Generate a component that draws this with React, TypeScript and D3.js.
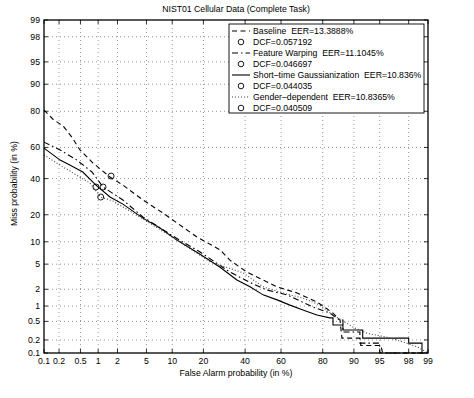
import * as React from "react"
import * as d3 from "d3"

// probability ticks (percent), same on both axes
const tickValues = [0.1, 0.2, 0.5, 1, 2, 5, 10, 20, 40, 60, 80, 90, 95, 98, 99]
const tickLabels = ["0.1", "0.2", "0.5", "1", "2", "5", "10", "20", "40", "60", "80", "90", "95", "98", "99"]

// DET curves: false alarm % / miss %
const baselineFa = [0.1, 0.15, 0.24, 0.35, 0.49, 0.82, 1.54, 2.4, 4.5, 7.9, 11.2, 17.6, 27.2, 32, 41, 57.8, 68.4, 77.6, 80.1, 83.8, 86.1, 86.7, 91.4, 91.6, 95.2, 95.4, 99]
const baselineMiss = [80.5, 76.3, 72.6, 66.3, 58.4, 50, 41, 36, 27.4, 20.8, 16.5, 11.4, 7.9, 5.7, 3.8, 2.2, 1.73, 1.19, 1.0, 0.73, 0.53, 0.22, 0.22, 0.15, 0.15, 0.1, 0.1]

const warpingFa = [0.1, 0.21, 0.43, 0.79, 1.2, 2.4, 4.5, 11.2, 18.7, 32, 42.7, 52.2, 63.2, 75.9, 82.7, 86.1, 87, 87, 91.4, 91.4, 95, 95, 99]
const warpingMiss = [63.3, 58.4, 51.9, 44.2, 34.8, 27.4, 19, 11, 7.4, 3.8, 2.6, 1.94, 1.6, 0.96, 0.73, 0.53, 0.53, 0.3, 0.3, 0.17, 0.17, 0.1, 0.1]

const gaussFa = [0.1, 0.21, 0.32, 0.55, 0.92, 1.54, 2.4, 4.5, 7.3, 11.2, 18.7, 27.2, 35.6, 42.7, 50, 57.8, 64.8, 71.3, 77.6, 82.7, 83.8, 83.8, 87, 87, 92, 92, 98, 98, 98.75, 98.75]
const gaussMiss = [59.6, 51.9, 48.7, 44.2, 36, 29, 25.2, 18.5, 14.5, 10.5, 6.9, 4.5, 2.85, 2.2, 1.6, 1.3, 1.04, 0.84, 0.67, 0.59, 0.59, 0.42, 0.42, 0.33, 0.33, 0.22, 0.22, 0.17, 0.17, 0.1]

const genderFa = [0.1, 0.18, 0.37, 0.73, 1.1, 1.71, 4.1, 11.2, 22.7, 38.9, 50, 61, 71.3, 78.9, 83.8, 89.8, 92.9, 96, 97.6, 98.5, 99]
const genderMiss = [55.2, 50, 43.5, 37.2, 29, 26.8, 19, 10.5, 5.4, 3.7, 2.2, 1.73, 1.4, 1.04, 0.67, 0.38, 0.28, 0.23, 0.18, 0.14, 0.1]

// DCF operating points, in legend order
const dcfFa = [1.6, 1.2, 0.92, 1.1]
const dcfMiss = [41.6, 34.8, 34.8, 29]

const legendLabels = [
  "Baseline  EER=13.3888%",
  "DCF=0.057192",
  "Feature Warping  EER=11.1045%",
  "DCF=0.046697",
  "Short\u2013time Gaussianization  EER=10.836%",
  "DCF=0.044035",
  "Gender\u2013dependent  EER=10.8365%",
  "DCF=0.040509",
]

// inverse normal cdf (Acklam)
function probit(p: number) {
  const a = [-39.69683028665376, 220.9460984245205, -275.9285104469687, 138.357751867269, -30.66479806614716, 2.506628277459239]
  const b = [-54.47609879822406, 161.5858368580409, -155.6989798598866, 66.80131188771972, -13.28068155288572]
  const c = [-0.007784894002430293, -0.3223964580411365, -2.400758277161838, -2.549732539343734, 4.374664141464968, 2.938163982698783]
  const d = [0.007784695709041462, 0.3224671290700398, 2.445134137142996, 3.754408661907416]
  const pl = 0.02425
  if (p < pl) {
    const q = Math.sqrt(-2 * Math.log(p))
    return (((((c[0] * q + c[1]) * q + c[2]) * q + c[3]) * q + c[4]) * q + c[5]) / ((((d[0] * q + d[1]) * q + d[2]) * q + d[3]) * q + 1)
  }
  if (p > 1 - pl) {
    const q = Math.sqrt(-2 * Math.log(1 - p))
    return -(((((c[0] * q + c[1]) * q + c[2]) * q + c[3]) * q + c[4]) * q + c[5]) / ((((d[0] * q + d[1]) * q + d[2]) * q + d[3]) * q + 1)
  }
  const q = p - 0.5
  const r = q * q
  return ((((((a[0] * r + a[1]) * r + a[2]) * r + a[3]) * r + a[4]) * r + a[5]) * q) / (((((b[0] * r + b[1]) * r + b[2]) * r + b[3]) * r + b[4]) * r + 1)
}

const FONT = "'Liberation Sans', Arial, Helvetica, sans-serif"

export default function App() {
  const width = 474
  const height = 398
  const left = 44, right = 428, top = 20, bottom = 353

  const x = d3.scaleLinear().domain([probit(0.001), probit(0.99)]).range([left, right])
  const y = d3.scaleLinear().domain([probit(0.001), probit(0.99)]).range([bottom, top])
  const px = (v: number) => x(probit(v / 100))
  const py = (v: number) => y(probit(v / 100))

  const line = d3
    .line<[number, number]>()
    .x((d) => px(d[0]))
    .y((d) => py(d[1]))

  const pairs = (fa: number[], miss: number[]) => fa.map((f, i) => [f, miss[i]] as [number, number])

  const series = [
    { fa: baselineFa, miss: baselineMiss, dash: "5,3.5", color: "#000", w: 1.1 },
    { fa: warpingFa, miss: warpingMiss, dash: "6,3,1.5,3", color: "#000", w: 1.1 },
    { fa: gaussFa, miss: gaussMiss, dash: "none", color: "#000", w: 1.1 },
    { fa: genderFa, miss: genderMiss, dash: "1,2", color: "#444", w: 1.1 },
  ]

  const gridColor = "#8a8a8a"
  const legX = 229, legY = 24, legW = 195, legH = 89, rowH = 11

  return (
    <div style={{ position: "absolute", left: 0, top: 0 }}>
      <svg width={width} height={height} viewBox={`0 0 ${width} ${height}`} style={{ display: "block", background: "#fff" }}>
        <rect width={width} height={height} fill="#fff" />
        {/* grid */}
        <g stroke={gridColor} strokeWidth={0.9} strokeDasharray="1,3">
          {tickValues.slice(1, -1).map((t) => (
            <line key={"gx" + t} x1={px(t)} x2={px(t)} y1={top} y2={bottom} />
          ))}
          {tickValues.slice(1, -1).map((t) => (
            <line key={"gy" + t} y1={py(t)} y2={py(t)} x1={left} x2={right} />
          ))}
        </g>
        {/* inner ticks */}
        <g stroke="#000" strokeWidth={0.8}>
          {tickValues.map((t) => (
            <g key={"t" + t}>
              <line x1={px(t)} x2={px(t)} y1={bottom} y2={bottom - 4} />
              <line x1={px(t)} x2={px(t)} y1={top} y2={top + 4} />
              <line y1={py(t)} y2={py(t)} x1={left} x2={left + 4} />
              <line y1={py(t)} y2={py(t)} x1={right} x2={right - 4} />
            </g>
          ))}
        </g>
        {/* curves */}
        <g fill="none">
          {series.map((s, i) => (
            <path key={i} d={line(pairs(s.fa, s.miss)) || ""} stroke={s.color} strokeWidth={s.w} strokeDasharray={s.dash} />
          ))}
          {dcfFa.map((f, i) => (
            <circle key={"c" + i} cx={px(f)} cy={py(dcfMiss[i])} r={3} stroke="#000" strokeWidth={0.9} />
          ))}
        </g>
        {/* frame */}
        <rect x={left} y={top} width={right - left} height={bottom - top} fill="none" stroke="#000" strokeWidth={1.3} />
        {/* tick labels */}
        <g fontFamily={FONT} fontSize={8.7} fill="#000">
          {tickValues.map((t, i) => (
            <text key={"lx" + t} x={px(t)} y={364} textAnchor="middle">{tickLabels[i]}</text>
          ))}
          {tickValues.map((t, i) => (
            <text key={"ly" + t} x={40} y={py(t) + 3} textAnchor="end">{tickLabels[i]}</text>
          ))}
        </g>
        {/* titles */}
        <g fontFamily={FONT} fontSize={8.7} fill="#000">
          <text x={236} y={12} textAnchor="middle">NIST01 Cellular Data (Complete Task)</text>
          <text x={236} y={376} textAnchor="middle">False Alarm probability (in %)</text>
          <text transform={`translate(17,${(top + bottom) / 2 - 3}) rotate(-90)`} textAnchor="middle">Miss probability (in %)</text>
        </g>
        {/* legend */}
        <rect x={legX} y={legY} width={legW} height={legH} fill="#fff" stroke="#000" strokeWidth={0.9} />
        <g fontFamily={FONT} fontSize={8.7} fill="#000">
          {legendLabels.map((lab, i) => {
            const cy = legY + 7 + i * rowH
            const s = series[Math.floor(i / 2)]
            return (
              <g key={"lg" + i}>
                {i % 2 === 0 ? (
                  <line x1={232} x2={250} y1={cy} y2={cy} stroke={s.color} strokeWidth={s.w} strokeDasharray={s.dash} />
                ) : (
                  <circle cx={241} cy={cy} r={2.8} fill="none" stroke="#000" strokeWidth={0.9} />
                )}
                <text x={253} y={cy + 3} style={{ whiteSpace: "pre" }}>{lab}</text>
              </g>
            )
          })}
        </g>
      </svg>
    </div>
  )
}
